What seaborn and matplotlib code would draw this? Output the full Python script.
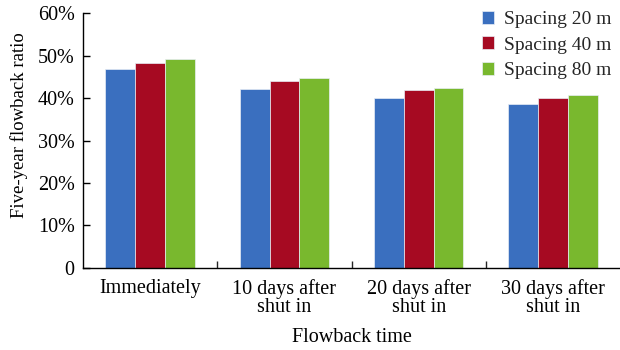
import matplotlib
matplotlib.use("Agg")
import matplotlib.pyplot as plt
import seaborn as sns
import pandas as pd
from matplotlib.ticker import FuncFormatter, FixedLocator

# Flowback ratio (%) after five years for each shut-in scenario and fracture spacing
categories = ["Immediately", "10 days after\nshut in", "20 days after\nshut in", "30 days after\nshut in"]
spacing_labels = ["Spacing 20 m", "Spacing 40 m", "Spacing 80 m"]
spacing_20 = [46.8, 42.1, 40.1, 38.5]
spacing_40 = [48.3, 44.0, 41.8, 40.1]
spacing_80 = [49.2, 44.7, 42.3, 40.7]
colors = ["#3A6FBF", "#A60A22", "#79B82E"]

rows = []
for label, vals in zip(spacing_labels, [spacing_20, spacing_40, spacing_80]):
    for cat, v in zip(categories, vals):
        rows.append({"time": cat, "spacing": label, "ratio": v})
df = pd.DataFrame(rows)

sns.set_theme(style="white")
plt.rcParams["font.family"] = ["Liberation Serif", "DejaVu Serif"]

fig = plt.figure(figsize=(6.2, 3.5), dpi=100)
ax = fig.add_axes([0.134, 0.235, 0.866, 0.727])

sns.barplot(data=df, x="time", y="ratio", hue="spacing", order=categories,
            hue_order=spacing_labels, palette=colors, width=0.667,
            saturation=1, edgecolor="#E8EEF5", linewidth=0.5, ax=ax)

ax.set_ylim(0, 60)
ax.set_xlim(-0.5, 3.5)
ax.set_yticks(range(0, 61, 10))
ax.yaxis.set_major_formatter(FuncFormatter(lambda v, p: "0" if v == 0 else f"{int(v)}%"))
ax.tick_params(axis="y", direction="in", length=5, width=1, labelsize=14.5, left=True, pad=6, colors="black")
ax.tick_params(axis="x", which="major", length=0, labelsize=14.5, pad=8, colors="black")
for lbl in ax.get_xticklabels():
    lbl.set_linespacing(0.95)
ax.xaxis.set_minor_locator(FixedLocator([0.5, 1.5, 2.5]))
ax.tick_params(axis="x", which="minor", direction="in", length=5, width=1, bottom=True)

for side in ["top", "right"]:
    ax.spines[side].set_visible(False)
for side in ["left", "bottom"]:
    ax.spines[side].set_color("black")
    ax.spines[side].set_linewidth(1)

ax.set_xlabel("Flowback time", fontsize=14.5, labelpad=8, color="black")
ax.set_ylabel("Five-year flowback ratio", fontsize=13.5, color="black")
ax.yaxis.set_label_coords(-0.102, 0.56)

ax.legend(title=None, loc="upper right", bbox_to_anchor=(1.006, 1.055), frameon=False,
          fontsize=14, handlelength=0.65, handleheight=0.65, handletextpad=0.5,
          labelspacing=0.42, borderaxespad=0.2)

fig.savefig("out.png", dpi=100)
